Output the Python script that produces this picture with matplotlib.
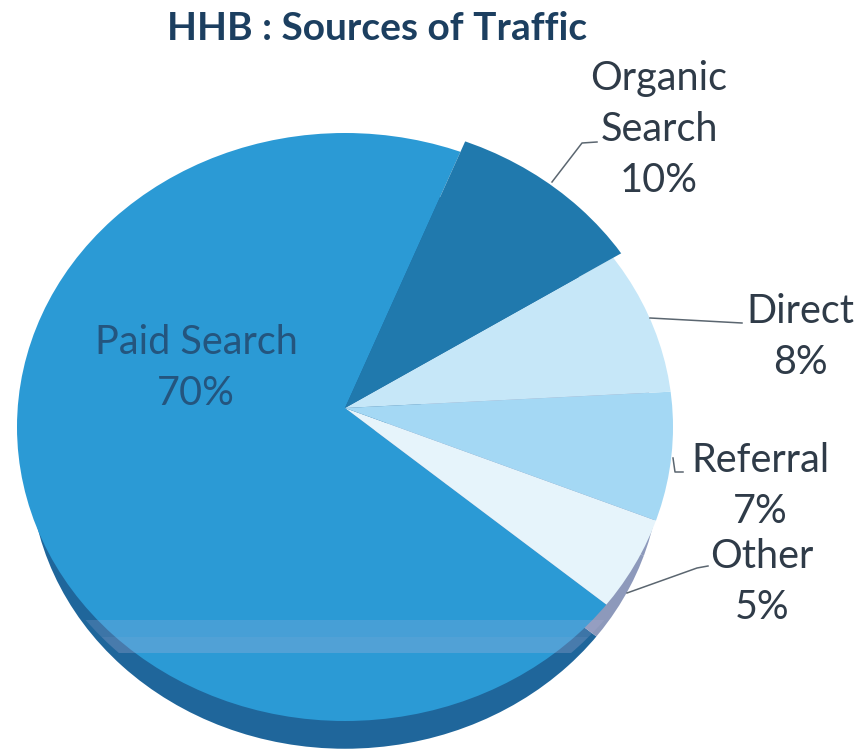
import matplotlib.pyplot as plt
from matplotlib.patches import Circle

plt.rcParams['font.family'] = ['Lato', 'DejaVu Sans']

# Daten
labels = ['Paid Search', 'Other', 'Referral', 'Direct', 'Organic\nSearch']
values = [70, 5, 7, 8, 10]
top_colors = ['#2b9ad5', '#e6f4fb', '#a4d8f4', '#c6e7f8', '#2079ad']
side_colors = ['#1f669b', '#8d99bb', '#8d99bb', '#8d99bb', '#1f669b']
title = 'HHB : Sources of Traffic'

W, H = 857, 753
K = 294 / 328  # Ellipse: Hoehe / Breite


def py(y):
    # Pixel von oben -> Datenkoordinate
    return (H - y) / K


fig = plt.figure(figsize=(W / 100, H / 100), dpi=100)
ax = fig.add_axes([0, 0, 1, 1])


def draw_pie(colors, cy_shift, r=328, organic_shift=(0, 0)):
    wedges, _ = ax.pie(values, colors=colors, startangle=68, radius=700,
                       center=(345, py(408 + cy_shift)),
                       wedgeprops={'linewidth': 0})
    for i, w in enumerate(wedges):
        dx, dy = organic_shift if i == 4 else (0, 0)
        clip = Circle((345 + dx, py(427 + cy_shift + dy)), r, transform=ax.transData)
        w.set_clip_on(True)
        w.set_clip_path(clip)
    return wedges


# Seitenflaeche (kleinerer Kreis, damit sie erst unten sichtbar wird), dann Oberseite
draw_pie(side_colors, 39.4, r=315)
draw_pie(top_colors, 0, organic_shift=(3, -11))

# helle Streifen unten
for y0, y1, a in [(620, 637, 0.20), (637, 653, 0.27)]:
    band = ax.axhspan(py(y1), py(y0), color='#b9b4dc', alpha=a, lw=0, zorder=3)
    band.set_clip_path(Circle((345, py(440)), 328, transform=ax.transData))

ax.set_aspect('auto')
ax.set_xlim(0, W)
ax.set_ylim(0, H / K)
ax.axis('off')

# Fuehrungslinien
leaders = [([552, 582, 597], [182, 143, 142]),
           ([650, 742], [318, 323]),
           ([673, 675, 683], [458, 472, 472]),
           ([627, 697, 708], [593, 568, 566])]
for xs, ys in leaders:
    ax.plot(xs, [py(y) for y in ys], color='#5b6670', lw=1.1, zorder=4)

# Beschriftung
label_pos = {0: (196, 368, '#24557e'), 1: (762, 582, '#2f3b48'), 2: (760, 486, '#2f3b48'),
             3: (800, 337, '#2f3b48'), 4: (659, 129.5, '#2f3b48')}
for i, (x, y, c) in label_pos.items():
    ax.text(x, py(y), f'{labels[i]}\n{values[i]}%', ha='center', va='center',
            fontsize=28.5, color=c, linespacing=1.47, zorder=5)

ax.text(377, py(29), title, ha='center', va='center', fontsize=28, fontweight='bold',
        color='#1c3f60', zorder=5)

fig.savefig('out.png', dpi=100)
